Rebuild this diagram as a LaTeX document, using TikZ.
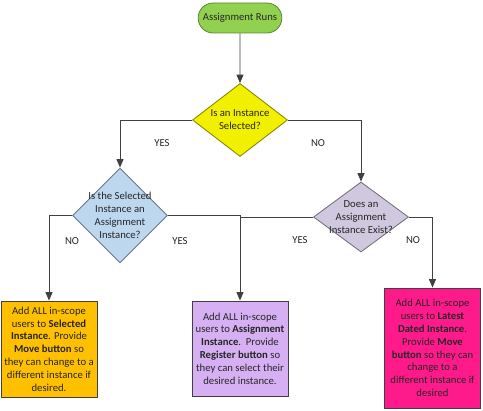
\documentclass[tikz,border=0pt]{standalone}
\usepackage{fontspec}
\setmainfont{Carlito}
\usetikzlibrary{arrows.meta,positioning,shapes.geometric,shapes.misc}
\definecolor{linegray}{HTML}{404040}
\definecolor{txtgray}{HTML}{262626}
\definecolor{termgreen}{HTML}{92D050}
\definecolor{decyellow}{HTML}{F0F000}
\definecolor{decblue}{HTML}{BDD7EE}
\definecolor{declilac}{HTML}{CFC8DE}
\definecolor{actorange}{HTML}{FFC000}
\definecolor{actpurple}{HTML}{D6B0F2}
\definecolor{actpink}{HTML}{FF1A8C}
\tikzset{
  base/.style={align=center, font=\fontsize{7.6}{9.1}\selectfont, text=txtgray, line width=0.6pt},
  term/.style={base, rounded rectangle, fill=termgreen, draw=termgreen!65!black, minimum width=2.325cm, minimum height=0.75cm},
  dec/.style={base, diamond, inner sep=0pt},
  dectext/.style={align=center, font=\fontsize{7.6}{9.1}\selectfont, text=txtgray},
  act/.style={base, rectangle, draw=linegray, inner sep=1pt},
  arrow/.style={-{Triangle[length=6pt,width=5pt]}, line width=0.6pt, draw=linegray},
  line/.style={line width=0.6pt, draw=linegray},
  lbl/.style={font=\fontsize{7.6}{9.1}\selectfont, text=txtgray}
}

\begin{document}
\begin{tikzpicture}[x=0.025cm, y=-0.025cm]
  \useasboundingbox (0,0) rectangle (483,411);

  \node[term] (start) at (240,18) {Assignment Runs};
  \node[dec, fill=decyellow, draw=decyellow!55!black, minimum width=2.375cm, minimum height=1.825cm,
        label={[dectext]center:Is an Instance\\Selected?}] (sel) at (240,120) {};
  \node[dec, fill=decblue, draw=decblue!55!black, minimum width=2.375cm, minimum height=2.375cm,
        label={[dectext]center:Is the Selected\\Instance an\\Assignment\\Instance?}] (sub) at (120,215.5) {};
  \node[dec, fill=declilac, draw=declilac!55!black, minimum width=2.375cm, minimum height=1.75cm,
        label={[dectext]center:Does an\\Assignment\\Instance Exist?}] (exist) at (361,217) {};

  \node[act, fill=actorange, minimum width=2.4cm, minimum height=2.4cm] (boxA) at (49,349)
    {Add ALL in-scope\\users to \textbf{Selected}\\\textbf{Instance}. Provide\\\textbf{Move button} so\\they can change to a\\different instance if\\desired.};
  \node[act, fill=actpurple, minimum width=2.4cm, minimum height=2.375cm] (boxB) at (240,348.5)
    {Add ALL in-scope\\users to \textbf{Assignment}\\\textbf{Instance}.\ \ Provide\\\textbf{Register button} so\\they can select their\\desired instance.};
  \node[act, fill=actpink, minimum width=2.4cm, minimum height=3cm] (boxC) at (432.5,348)
    {Add ALL in-scope\\users to \textbf{Latest}\\\textbf{Dated Instance}.\\Provide \textbf{Move}\\\textbf{button} so they can\\change to a\\different instance if\\desired};

  \draw[arrow] (start) -- (sel);
  \draw[arrow] (sel.west) -| (sub.north);
  \draw[arrow] (sel.east) -| (exist.north);
  \draw[arrow] (sub.west) -| (boxA.north);
  \draw[arrow] (sub.east) -| (boxB.north);
  \draw[line] (exist.west) -- (exist.west -| boxB.north);
  \draw[arrow] (exist.east) -| (boxC.north);

  \node[lbl] (yes1) at (162,143) {YES};
  \node[lbl] (no1) at (318,143) {NO};
  \node[lbl] (no2) at (72,241) {NO};
  \node[lbl] (yes2) at (180,241) {YES};
  \node[lbl] (yes3) at (300,240) {YES};
  \node[lbl] (no3) at (413,240) {NO};
\end{tikzpicture}
\end{document}
